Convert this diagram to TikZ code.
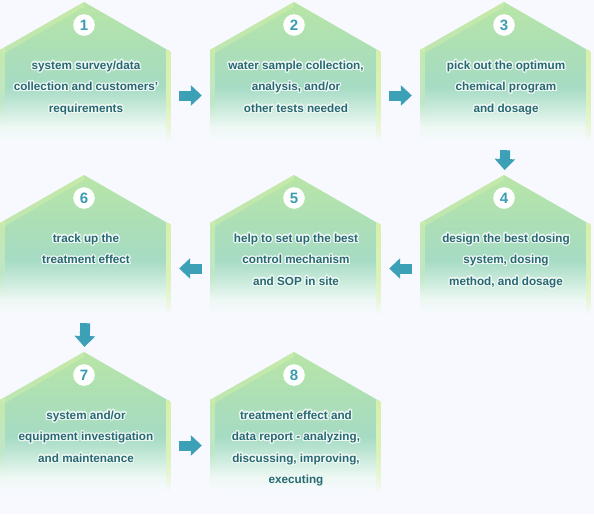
\documentclass[tikz,border=0pt]{standalone}
\usepackage{fontspec}
\setmainfont{Liberation Sans}
\usepackage[copies]{contour}
\usetikzlibrary{arrows.meta}
\contourlength{1.2pt}
\contournumber{16}
\definecolor{pagebg}{RGB}{247,249,254}
\definecolor{labeltext}{RGB}{40,104,114}
\definecolor{numtext}{RGB}{58,156,180}
\definecolor{flowteal}{RGB}{60,160,182}
\definecolor{halocol}{RGB}{238,249,244}
\definecolor{housetop}{RGB}{184,229,166}
\definecolor{houseshoulder}{RGB}{172,223,182}
\definecolor{housemid}{RGB}{166,219,196}
\definecolor{houselow}{RGB}{205,236,222}
\definecolor{housefoot}{RGB}{238,248,244}
\definecolor{bandtop}{RGB}{214,240,170}
\definecolor{bandmid}{RGB}{218,241,184}
\definecolor{bandlow}{RGB}{232,246,216}
\definecolor{sidetop}{RGB}{196,234,172}
\definecolor{sidemid}{RGB}{190,230,200}
% horizontal rows from one colour to the next
\newcommand\fadeband[6]{%
  \pgfmathtruncatemacro\bandsteps{(#4)-(#3)}%
  \foreach \s in {0,...,\bandsteps}{%
    \pgfmathsetmacro\mixpct{100-100*\s/\bandsteps}%
    \fill[#5!\mixpct!#6] (#1,#3+\s) rectangle (#2,#3+\s+1.3);
  }}
\newcommand\halo[1]{\contour{halocol}{#1}}
\begin{document}
\begin{tikzpicture}[x=1pt,y=-1pt,
  housebody/.style={minimum width=171pt,minimum height=91pt,inner sep=0pt},
  numdot/.style={circle,fill=white,minimum size=21.6pt,inner sep=0pt,text=numtext,font=\bfseries\fontsize{15}{15}\selectfont},
  steptext/.style={anchor=north,align=center,inner sep=0pt,text=labeltext,font=\bfseries\fontsize{11.7}{21.5}\selectfont},
  flowarrow/.style={draw=flowteal,line width=10pt,-{Triangle[length=11pt,width=20pt]},shorten <=8pt,shorten >=8pt},
  downarrow/.style={flowarrow,shorten <=9pt,shorten >=17pt}]
\fill[pagebg] (0,0) rectangle (594,514);
\useasboundingbox (0,0) rectangle (594,514);
% house outlines
\foreach \hx/\hy in {0/2,210/2,420/2,420/175,210/175,0/175,0/352,210/352}{
  \begin{scope}
    \clip (\hx,\hy+145) -- (\hx,\hy+48) -- (\hx+84,\hy) -- (\hx+171,\hy+50) -- (\hx+171,\hy+145) -- cycle;
    \fadeband{\hx}{\hx+171}{\hy}{\hy+48}{housetop}{houseshoulder}
    \fadeband{\hx}{\hx+171}{\hy+48}{\hy+85}{houseshoulder}{housemid}
    \fadeband{\hx}{\hx+171}{\hy+85}{\hy+108}{housemid}{houselow}
    \fadeband{\hx}{\hx+171}{\hy+108}{\hy+125}{houselow}{housefoot}
    \fadeband{\hx}{\hx+171}{\hy+125}{\hy+140}{housefoot}{pagebg}
    % light side faces
    \fadeband{\hx+166}{\hx+171}{\hy+46}{\hy+100}{bandtop}{bandmid}
    \fadeband{\hx+166}{\hx+171}{\hy+100}{\hy+125}{bandmid}{bandlow}
    \fadeband{\hx+166}{\hx+171}{\hy+125}{\hy+140}{bandlow}{pagebg}
    \fadeband{\hx}{\hx+5}{\hy+46}{\hy+100}{sidetop}{sidemid}
    \fadeband{\hx}{\hx+5}{\hy+100}{\hy+125}{sidemid}{housefoot}
    \fadeband{\hx}{\hx+5}{\hy+125}{\hy+140}{housefoot}{pagebg}
  \end{scope}
  \fill[bandtop,fill opacity=0.45] (\hx,\hy+48) -- (\hx+84,\hy) -- (\hx+84,\hy+5) -- (\hx+5,\hy+51) -- cycle;
}
% house bodies
\node[housebody] (survey) at (85.5,95.5) {};
\node[housebody] (sampling) at (295.5,95.5) {};
\node[housebody] (program) at (505.5,95.5) {};
\node[housebody] (dosing) at (505.5,268.5) {};
\node[housebody] (control) at (295.5,268.5) {};
\node[housebody] (tracking) at (85.5,268.5) {};
\node[housebody] (maintenance) at (85.5,445.5) {};
\node[housebody] (report) at (295.5,445.5) {};
% step numbers
\node[numdot] (num1) at (84,25) {1};
\node[numdot] (num2) at (294,25) {2};
\node[numdot] (num3) at (504,25) {3};
\node[numdot] (num4) at (504,198) {4};
\node[numdot] (num5) at (294,198) {5};
\node[numdot] (num6) at (84,198) {6};
\node[numdot] (num7) at (84,375) {7};
\node[numdot] (num8) at (294,375) {8};
% step texts
\node[steptext] (survey text) at (86,60.5) {\halo{system survey/data}\\\halo{collection and customers’}\\\halo{requirements}};
\node[steptext] (sampling text) at (296,60.5) {\halo{water sample collection,}\\\halo{analysis, and/or}\\\halo{other tests needed}};
\node[steptext] (program text) at (506,60.5) {\halo{pick out the optimum}\\\halo{chemical program}\\\halo{and dosage}};
\node[steptext] (dosing text) at (506,233.5) {\halo{design the best dosing}\\\halo{system, dosing}\\\halo{method, and dosage}};
\node[steptext] (control text) at (296,233.5) {\halo{help to set up the best}\\\halo{control mechanism}\\\halo{and SOP in site}};
\node[steptext] (tracking text) at (86,233.5) {\halo{track up the}\\\halo{treatment effect}};
\node[steptext] (maintenance text) at (86,410.5) {\halo{system and/or}\\\halo{equipment investigation}\\\halo{and maintenance}};
\node[steptext] (report text) at (296,410.5) {\halo{treatment effect and}\\\halo{data report - analyzing,}\\\halo{discussing, improving,}\\\halo{executing}};
% flow arrows
\draw[flowarrow] (survey.east) -- (sampling.west);
\draw[flowarrow] (sampling.east) -- (program.west);
\draw[downarrow] (program.south) -- (num4.north);
\draw[flowarrow] (dosing.west) -- (control.east);
\draw[flowarrow] (control.west) -- (tracking.east);
\draw[downarrow] (tracking.south) -- (num7.north);
\draw[flowarrow] (maintenance.east) -- (report.west);
\end{tikzpicture}
\end{document}
